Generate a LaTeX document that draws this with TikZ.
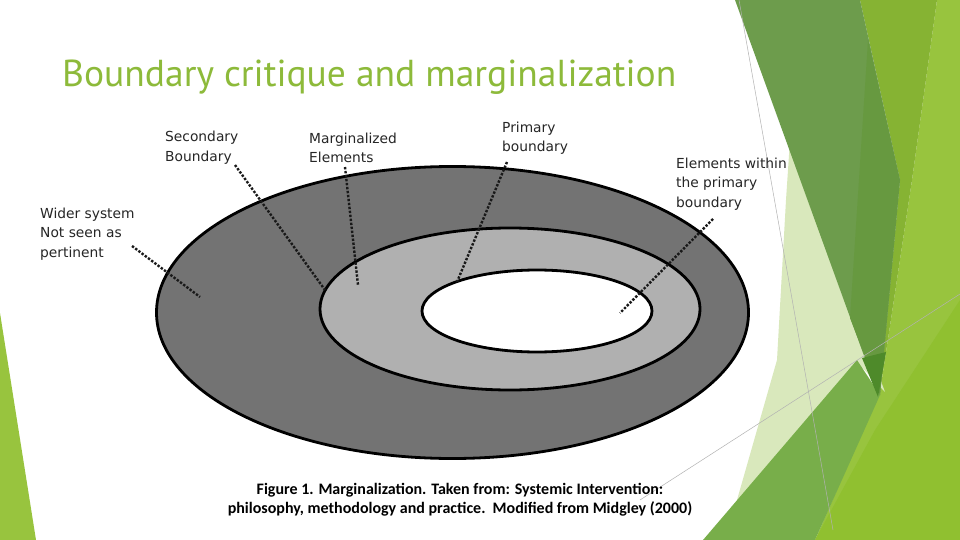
\documentclass[tikz,border=0pt]{standalone}
\usepackage{fontspec}
\newfontfamily\labelfont{DejaVu Sans}
\newfontfamily\titlefont{PT Sans}
\newfontfamily\capfont{Carlito}
\definecolor{titlegreen}{HTML}{8DBA3A}
\definecolor{gLight}{HTML}{98C43E}
\definecolor{gOlive}{HTML}{86B333}
\definecolor{gPale}{HTML}{D9E8BC}
\definecolor{gMed}{HTML}{78AE4A}
\definecolor{gBright}{HTML}{90C030}
\definecolor{gDark}{HTML}{6D9C4C}
\definecolor{gDarker}{HTML}{679940}
\definecolor{gTip}{HTML}{4E8A2A}
\definecolor{ringOuter}{HTML}{737373}
\definecolor{ringMid}{HTML}{B0B0B0}
\tikzset{
  lbl/.style={font={\labelfont\fontsize{13.8}{19.3}\selectfont}, text=black!85, align=left, inner sep=0pt, anchor=base west},
  ptr/.style={line width=2.4pt, dash pattern=on 2.4pt off 1.6pt, black!90},
  ring/.style={draw=black, line width=2.8pt},
  thinline/.style={draw=black!30, line width=0.5pt}
}
\begin{document}
\begin{tikzpicture}[x=1pt,y=-1pt]
\useasboundingbox (0,0) rectangle (960,540);
\fill[white] (0,0) rectangle (960,540);

% --- theme decoration ---
\fill[gLight] (937,0) -- (960,0) -- (960,540) -- (815,540) -- (880,392) -- (912,180) -- cycle;
\fill[gOlive] (860,0) -- (937,0) -- (912,180) -- (880,392) -- (900,180) -- cycle;
\fill[gPale] (790,140) -- (885,392) -- (857,362) -- (720,535) -- (737,500) -- (777,360) -- (786,200) -- cycle;
\fill[gMed] (703,540) -- (857,360) -- (880,395) -- (815,540) -- cycle;
\fill[gBright] (815,540) -- (875,430) -- (960,300) -- (960,540) -- cycle;
\fill[gDark] (735,0) -- (860,0) -- (900,180) -- (880,395) -- (863,353) -- cycle;
\fill[gDarker] (868,40) -- (900,180) -- (880,395) -- (850,318) -- cycle;
\fill[gTip] (862,358) -- (886,352) -- (878,397) -- cycle;
\fill[gLight] (0,313) -- (36,540) -- (0,540) -- cycle;
\draw[thinline] (739,0) -- (833,530);
\draw[thinline] (640,500) -- (960,294);

% --- title ---
\node[anchor=base west, inner sep=0pt, text=titlegreen] (title) at (62,87)
  {\resizebox{614pt}{!}{\titlefont Boundary critique and marginalization}};

% --- rings ---
\path[ring, fill=ringOuter] (452.5,312.5) ellipse [x radius=296, y radius=146];
\path[ring, fill=ringMid] (510,309) ellipse [x radius=190, y radius=81];
\path[ring, fill=white] (537,311) ellipse [x radius=115, y radius=41];

% --- labels (anchor = baseline of last line) ---
\node[lbl] (sec) at (165,161) {Secondary\\Boundary};
\node[lbl] (marg) at (309,163) {Marginalized\\Elements};
\node[lbl] (prim) at (502,152) {Primary\\boundary};
\node[lbl] (elem) at (676,207) {Elements within\\the primary\\boundary};
\node[lbl] (wider) at (40,257) {Wider system\\Not seen as\\pertinent};

% --- pointers ---
\coordinate (w1) at (132,246); \coordinate (w2) at (200,297);
\coordinate (s1) at (235,165); \coordinate (s2) at (325,290);
\coordinate (m1) at (345,167); \coordinate (m2) at (358,285);
\coordinate (p1) at (507,162); \coordinate (p2) at (457,282);
\coordinate (e1) at (713,219); \coordinate (e2) at (620,313);
\draw[ptr] (w1) -- (w2);
\draw[ptr] (s1) -- (s2);
\draw[ptr] (m1) -- (m2);
\draw[ptr] (p1) -- (p2);
\draw[ptr] (e1) -- (e2);

% --- caption ---
\node[anchor=base, inner sep=0pt, align=center, font={\capfont\bfseries\fontsize{16}{19}\selectfont}] (cap) at (460,513)
  {Figure 1. Marginalization. Taken from: Systemic Intervention:\\philosophy, methodology and practice.~~Modified from Midgley (2000)};
\end{tikzpicture}
\end{document}
